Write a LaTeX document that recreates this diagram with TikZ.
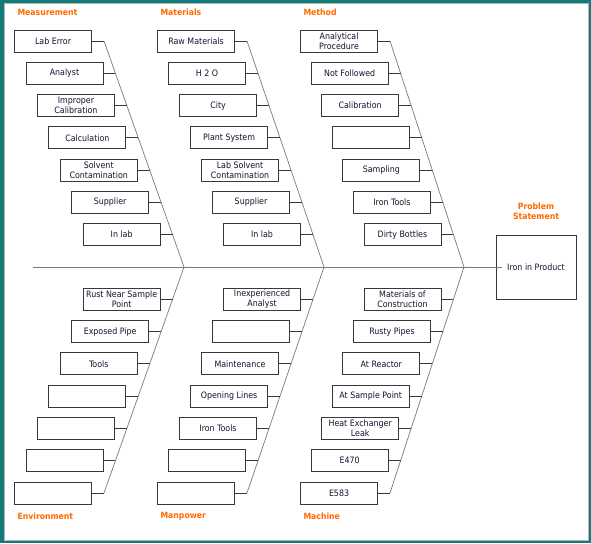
\documentclass[tikz,border=0pt]{standalone}
\usepackage{fontspec}
\setmainfont{DejaVu Sans Condensed}
\usepackage{xcolor}
\usepackage{tikz}
\definecolor{FBTeal}{HTML}{137B7A}
\definecolor{FBFrame}{HTML}{B4B4B4}
\definecolor{FBOrange}{HTML}{FF6A00}
\definecolor{FBLine}{HTML}{7A7A7A}
\definecolor{FBBox}{HTML}{383838}
\definecolor{FBText}{HTML}{141430}

\begin{document}
\begin{tikzpicture}[x=1pt,y=-1pt,
  cause/.style={draw=FBBox,line width=0.9pt,minimum width=77pt,minimum height=22pt,inner sep=1pt,align=center,anchor=east,text=FBText,font=\fontsize{8.8}{9.6}\selectfont},
  effect/.style={draw=FBBox,line width=0.9pt,minimum width=80pt,minimum height=64pt,inner sep=1pt,text=FBText,font=\fontsize{8.8}{9.6}\selectfont},
  tick/.style={draw=FBBox,line width=0.9pt},
  bone/.style={draw=FBLine,line width=0.7pt},
  catlabel/.style={anchor=west,text=FBOrange,font=\fontsize{8.6}{9.8}\selectfont\bfseries}]
\path[use as bounding box] (0,0) rectangle (591,543);
\fill[FBTeal] (0,0) rectangle (591,543);
\filldraw[fill=white,draw=FBFrame,line width=0.8pt] (4,3.5) rectangle (588,540);

% spine and bones
\coordinate (axisL) at (33,267);
\coordinate (j1) at (184,267);
\coordinate (j2) at (324,267);
\coordinate (j3) at (464,267);
\coordinate (msTop) at (104,41);
\coordinate (mtTop) at (247,41);
\coordinate (mdTop) at (390,41);
\coordinate (evEnd) at (104,493);
\coordinate (mpEnd) at (247,493);
\coordinate (mcEnd) at (390,493);
\node[effect] (prob) at (536,267) {Iron in Product};
\node[align=center,text=FBOrange,font=\fontsize{8.6}{9.8}\selectfont\bfseries] (probLbl) at (536,211) {Problem\\Statement};
\draw[bone] (axisL) -- ([xshift=6pt]prob.west);
\draw[bone] (msTop) -- (j1) -- (evEnd);
\draw[bone] (mtTop) -- (j2) -- (mpEnd);
\draw[bone] (mdTop) -- (j3) -- (mcEnd);

% category labels
\node[catlabel] (catMs) at (14,12) {Measurement};
\node[catlabel] (catMt) at (157,12) {Materials};
\node[catlabel] (catMd) at (300,12) {Method};
\node[catlabel] (catEv) at (14,516) {Environment};
\node[catlabel] (catMp) at (157,516) {Manpower};
\node[catlabel] (catMc) at (300,516) {Machine};

% measurement
\node[cause] (ms1) at (92,41) {Lab Error};
\node[cause] (ms2) at (103.4,73.3) {Analyst};
\node[cause] (ms3) at (114.9,105.6) {Improper\\Calibration};
\node[cause] (ms4) at (126.3,137.9) {Calculation};
\node[cause] (ms5) at (137.7,170.1) {Solvent\\Contamination};
\node[cause] (ms6) at (149.1,202.4) {Supplier};
\node[cause] (ms7) at (160.6,234.7) {In lab};
\draw[tick] (ms1.east) -- ++(12,0) (ms2.east) -- ++(12,0) (ms3.east) -- ++(12,0) (ms4.east) -- ++(12,0)
  (ms5.east) -- ++(12,0) (ms6.east) -- ++(12,0) (ms7.east) -- ++(12,0);

% materials
\node[cause] (mt1) at (235,41) {Raw Materials};
\node[cause] (mt2) at (246,73.3) {H 2 O};
\node[cause] (mt3) at (257,105.6) {City};
\node[cause] (mt4) at (268,137.9) {Plant System};
\node[cause] (mt5) at (279,170.1) {Lab Solvent\\Contamination};
\node[cause] (mt6) at (290,202.4) {Supplier};
\node[cause] (mt7) at (301,234.7) {In lab};
\draw[tick] (mt1.east) -- ++(12,0) (mt2.east) -- ++(12,0) (mt3.east) -- ++(12,0) (mt4.east) -- ++(12,0)
  (mt5.east) -- ++(12,0) (mt6.east) -- ++(12,0) (mt7.east) -- ++(12,0);

% method
\node[cause] (md1) at (378,41) {Analytical\\Procedure};
\node[cause] (md2) at (388.6,73.3) {Not Followed};
\node[cause] (md3) at (399.1,105.6) {Calibration};
\node[cause] (md4) at (409.7,137.9) {};
\node[cause] (md5) at (420.3,170.1) {Sampling};
\node[cause] (md6) at (430.9,202.4) {Iron Tools};
\node[cause] (md7) at (441.4,234.7) {Dirty Bottles};
\draw[tick] (md1.east) -- ++(12,0) (md2.east) -- ++(12,0) (md3.east) -- ++(12,0) (md4.east) -- ++(12,0)
  (md5.east) -- ++(12,0) (md6.east) -- ++(12,0) (md7.east) -- ++(12,0);

% environment
\node[cause] (ev1) at (160.6,299.3) {Rust Near Sample\\Point};
\node[cause] (ev2) at (149.1,331.6) {Exposed Pipe};
\node[cause] (ev3) at (137.7,363.9) {Tools};
\node[cause] (ev4) at (126.3,396.1) {};
\node[cause] (ev5) at (114.9,428.4) {};
\node[cause] (ev6) at (103.4,460.7) {};
\node[cause] (ev7) at (92,493) {};
\draw[tick] (ev1.east) -- ++(12,0) (ev2.east) -- ++(12,0) (ev3.east) -- ++(12,0) (ev4.east) -- ++(12,0)
  (ev5.east) -- ++(12,0) (ev6.east) -- ++(12,0) (ev7.east) -- ++(12,0);

% manpower
\node[cause] (mp1) at (301,299.3) {Inexperienced\\Analyst};
\node[cause] (mp2) at (290,331.6) {};
\node[cause] (mp3) at (279,363.9) {Maintenance};
\node[cause] (mp4) at (268,396.1) {Opening Lines};
\node[cause] (mp5) at (257,428.4) {Iron Tools};
\node[cause] (mp6) at (246,460.7) {};
\node[cause] (mp7) at (235,493) {};
\draw[tick] (mp1.east) -- ++(12,0) (mp2.east) -- ++(12,0) (mp3.east) -- ++(12,0) (mp4.east) -- ++(12,0)
  (mp5.east) -- ++(12,0) (mp6.east) -- ++(12,0) (mp7.east) -- ++(12,0);

% machine
\node[cause] (mc1) at (441.4,299.3) {Materials of\\Construction};
\node[cause] (mc2) at (430.9,331.6) {Rusty Pipes};
\node[cause] (mc3) at (420.3,363.9) {At Reactor};
\node[cause] (mc4) at (409.7,396.1) {At Sample Point};
\node[cause] (mc5) at (399.1,428.4) {Heat Exchanger\\Leak};
\node[cause] (mc6) at (388.6,460.7) {E470};
\node[cause] (mc7) at (378,493) {E583};
\draw[tick] (mc1.east) -- ++(12,0) (mc2.east) -- ++(12,0) (mc3.east) -- ++(12,0) (mc4.east) -- ++(12,0)
  (mc5.east) -- ++(12,0) (mc6.east) -- ++(12,0) (mc7.east) -- ++(12,0);
\end{tikzpicture}
\end{document}
